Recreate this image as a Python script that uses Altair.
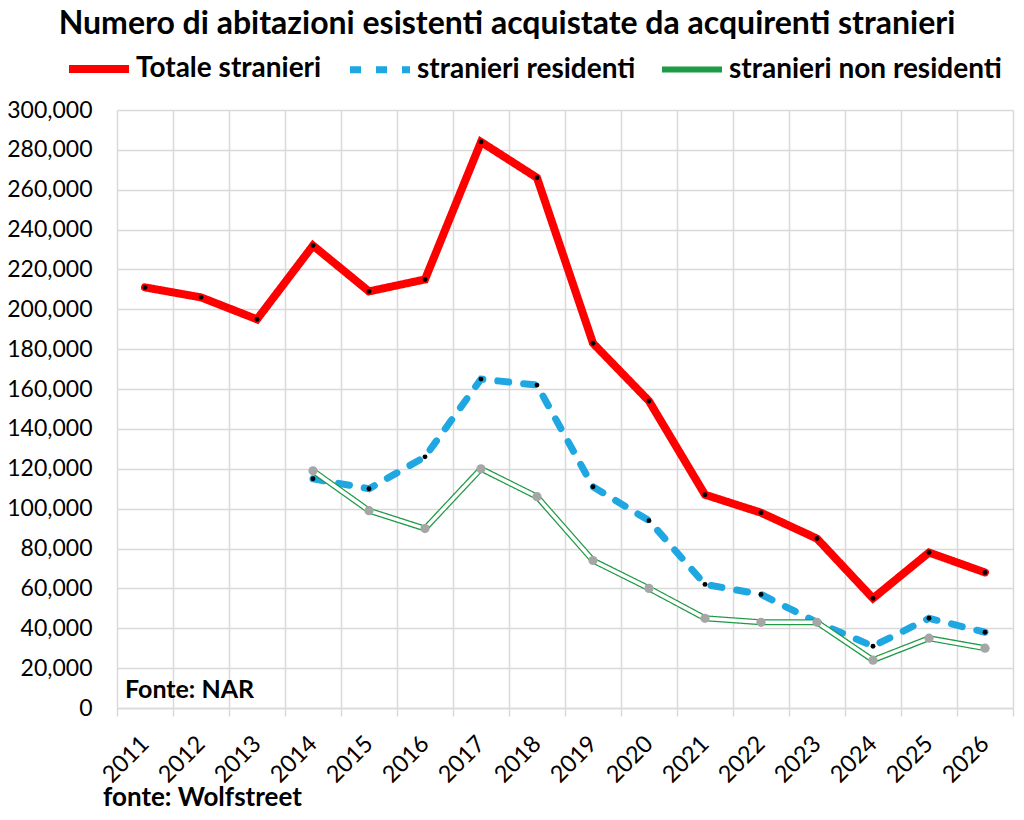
"""Numero di abitazioni esistenti acquistate da acquirenti stranieri (line chart, Altair)."""

import pandas as pd
import altair as alt

FONT = "Lato, 'Open Sans', sans-serif"

years = [str(y) for y in range(2011, 2027)]
totale = [211000, 206000, 195000, 232000, 209000, 215000, 284000, 266000,
          183000, 154000, 107000, 98000, 85000, 55000, 78000, 68000]
residenti = [None, None, None, 115000, 110000, 126000, 165000, 162000,
             111000, 94000, 62000, 57000, 43000, 31000, 45000, 38000]
non_residenti = [None, None, None, 119000, 99000, 90000, 120000, 106000,
                 74000, 60000, 45000, 43000, 43000, 24000, 35000, 30000]

series_names = ["Totale stranieri", "stranieri residenti", "stranieri non residenti"]
series_colors = ["#ff0000", "#1ea7e1", "#1f9a46"]
y_ticks = list(range(0, 300001, 20000))

# Long table, dropping the years without values
rows = []
for name, values in zip(series_names, [totale, residenti, non_residenti]):
    for year, v in zip(years, values):
        if v is not None:
            rows.append({"anno": year, "valore": v, "serie": name})
data = pd.DataFrame(rows)

x_enc = alt.X(
    "anno:O", title=None, bandPosition=0.5,
    scale=alt.Scale(type="band", paddingInner=0, paddingOuter=0, domain=years),
    axis=alt.Axis(
        tickBand="extent", grid=True, gridColor="#d9d9d9", gridWidth=1.5,
        ticks=True, tickColor="#d9d9d9", tickSize=8, tickWidth=1.5,
        domain=True, domainColor="#d9d9d9", domainWidth=1.5,
        labelAngle=-45, labelAlign="right", labelBaseline="middle",
        labelFontSize=23.5, labelFont=FONT, labelColor="black", labelPadding=24,
    ),
)
y_enc = alt.Y(
    "valore:Q", title=None,
    scale=alt.Scale(domain=[0, 300000], nice=False),
    axis=alt.Axis(
        values=y_ticks, format=",.0f", grid=True, gridColor="#d9d9d9", gridWidth=1.5,
        ticks=False, domain=False, labelFontSize=23, labelFont=FONT,
        labelColor="black", labelPadding=25,
    ),
)

base = alt.Chart(data)

lines = base.mark_line(strokeCap="round", strokeJoin="miter").encode(
    x=x_enc,
    y=y_enc,
    color=alt.Color("serie:N", scale=alt.Scale(domain=series_names, range=series_colors), title=None),
    strokeDash=alt.StrokeDash("serie:N", scale=alt.Scale(domain=series_names, range=[[1, 0], [11, 15], [1, 0]]), title=None),
    strokeWidth=alt.StrokeWidth("serie:N", scale=alt.Scale(domain=series_names, range=[8, 6, 9]), title=None),
)

# White core that turns the green line into a double line
inner = base.transform_filter(
    alt.datum.serie == "stranieri non residenti"
).mark_line(color="white", strokeWidth=3.5, strokeJoin="miter", strokeCap="round").encode(x=x_enc, y=y_enc)

dots_black = base.transform_filter(
    alt.datum.serie != "stranieri non residenti"
).mark_point(filled=True, color="black", size=24, opacity=1).encode(x=x_enc, y=y_enc)

dots_gray = base.transform_filter(
    alt.datum.serie == "stranieri non residenti"
).mark_point(filled=True, color="#a6a6a6", size=85, opacity=1).encode(x=x_enc, y=y_enc)

text_style = dict(baseline="alphabetic", fontWeight="bold", font=FONT, color="black")

titolo = pd.DataFrame({"testo": ["Numero di abitazioni esistenti acquistate da acquirenti stranieri"]})
title_mark = alt.Chart(titolo).mark_text(align="center", fontSize=32, **text_style).encode(
    x=alt.value(390), y=alt.value(-76), text="testo:N"
)

notes = pd.DataFrame({"testo": ["Fonte: NAR"]})
fonte_nar = alt.Chart(notes).mark_text(align="left", fontSize=25, **text_style).encode(
    x=alt.value(8), y=alt.value(588), text="testo:N"
)

credits = pd.DataFrame({"testo": ["fonte: Wolfstreet"]})
fonte_wolf = alt.Chart(credits).mark_text(align="left", fontSize=26, **text_style).encode(
    x=alt.value(-14), y=alt.value(696), text="testo:N"
)

chart = alt.layer(lines, inner, dots_black, dots_gray, title_mark, fonte_nar, fonte_wolf).properties(
    width=896,
    height=598,
    autosize=alt.AutoSizeParams(type="none"),
    padding={"left": 109, "top": 102, "right": 3, "bottom": 104},
).configure_view(
    stroke=None
).configure_legend(
    orient="none", legendX=-52, legendY=-75, direction="horizontal", columns=3,
    symbolType="stroke", symbolSize=3600, labelFontSize=28, labelFontWeight="bold",
    labelFont=FONT, labelColor="black", columnPadding=14, labelOffset=3, labelLimit=400,
)

chart.save("out.html", embed_options={"renderer": "svg", "actions": False})
